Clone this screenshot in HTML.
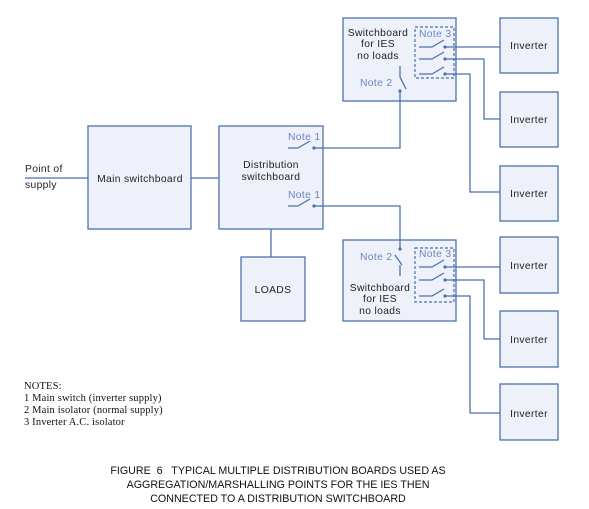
<!DOCTYPE html>
<html><head><meta charset="utf-8"><style>
html,body{margin:0;padding:0;background:#fff;}
svg{display:block;}
.b{fill:#eef1f9;stroke:#4a72b0;stroke-width:1.3;}
.l{fill:none;stroke:#4a72b0;stroke-width:1.3;}
.d{fill:none;stroke:#4a72b0;stroke-width:1.2;stroke-dasharray:3,2;}
.t{font-family:"Liberation Sans",sans-serif;font-size:10.3px;fill:#222;letter-spacing:0.35px;}
.n{font-family:"Liberation Sans",sans-serif;font-size:10.3px;fill:#6a86c0;letter-spacing:0.35px;}
.s{font-family:"Liberation Serif",serif;font-size:10.5px;fill:#111;letter-spacing:0.15px;}
.c{font-family:"Liberation Sans",sans-serif;font-size:10.7px;fill:#111;white-space:pre;}
circle{fill:#4a72b0;}
</style></head><body>
<svg width="589" height="509" viewBox="0 0 589 509">
<rect class="b" x="88" y="126" width="103" height="103"/>
<rect class="b" x="219" y="126" width="104" height="103"/>
<rect class="b" x="241" y="257" width="64" height="64"/>
<rect class="b" x="343" y="18" width="113" height="83"/>
<rect class="b" x="343" y="240" width="113" height="81"/>
<rect class="b" x="500" y="18" width="58" height="55"/>
<rect class="b" x="500" y="92" width="58" height="55"/>
<rect class="b" x="500" y="166" width="58" height="55"/>
<rect class="b" x="500" y="237" width="58" height="56"/>
<rect class="b" x="500" y="311" width="58" height="56"/>
<rect class="b" x="500" y="384" width="58" height="56"/>
<rect class="d" x="415" y="27" width="39" height="51"/>
<rect class="d" x="415" y="248" width="39" height="54"/>
<path class="l" d="M25 178H88M191 178H219M271 229V257"/>
<path class="l" d="M288 148H298L310 141M314 148H400V91M288 206H298L310 199M314 206H400V248"/>
<circle cx="314" cy="148" r="1.6"/><circle cx="314" cy="206" r="1.6"/>
<path class="l" d="M400 66V77L406 89"/><circle cx="400" cy="91" r="1.6"/>
<path class="l" d="M395 255L402 265M400 265V276"/><circle cx="400" cy="249" r="1.6"/>
<path class="l" d="M419 47H432L444 40M445 47H500M419 59H432L444 52M445 59H484V119H500M419 74H432L444 67M445 74H470V192H500"/>
<circle cx="445" cy="47" r="1.6"/><circle cx="445" cy="59" r="1.6"/><circle cx="445" cy="74" r="1.6"/>
<path class="l" d="M419 267H432L444 260M445 267H500M419 280H432L444 273M445 280H484V339H500M419 296H432L444 289M445 296H470V413H500"/>
<circle cx="445" cy="267" r="1.6"/><circle cx="445" cy="280" r="1.6"/><circle cx="445" cy="296" r="1.6"/>
<text class="t" x="25" y="172">Point of</text>
<text class="t" x="25" y="188">supply</text>
<text class="t" x="140" y="182" text-anchor="middle">Main switchboard</text>
<text class="t" x="271" y="168" text-anchor="middle">Distribution</text>
<text class="t" x="271" y="180" text-anchor="middle">switchboard</text>
<text class="n" x="288" y="140">Note 1</text>
<text class="n" x="288" y="198">Note 1</text>
<text class="t" x="273" y="293" text-anchor="middle">LOADS</text>
<text class="t" x="378" y="36" text-anchor="middle">Switchboard</text>
<text class="t" x="378" y="47" text-anchor="middle">for IES</text>
<text class="t" x="378" y="59" text-anchor="middle">no loads</text>
<text class="n" x="360" y="86">Note 2</text>
<text class="n" x="419" y="37">Note 3</text>
<text class="n" x="360" y="260">Note 2</text>
<text class="n" x="419" y="257">Note 3</text>
<text class="t" x="380" y="291" text-anchor="middle">Switchboard</text>
<text class="t" x="380" y="302" text-anchor="middle">for IES</text>
<text class="t" x="380" y="314" text-anchor="middle">no loads</text>
<text class="t" x="529" y="49" text-anchor="middle">Inverter</text>
<text class="t" x="529" y="123" text-anchor="middle">Inverter</text>
<text class="t" x="529" y="197" text-anchor="middle">Inverter</text>
<text class="t" x="529" y="269" text-anchor="middle">Inverter</text>
<text class="t" x="529" y="343" text-anchor="middle">Inverter</text>
<text class="t" x="529" y="417" text-anchor="middle">Inverter</text>
<text class="s" x="24" y="389">NOTES:</text>
<text class="s" x="24" y="401">1 Main switch (inverter supply)</text>
<text class="s" x="24" y="413">2 Main isolator (normal supply)</text>
<text class="s" x="24" y="425">3 Inverter A.C. isolator</text>
<text class="c" x="278" y="474" text-anchor="middle" xml:space="preserve">FIGURE  6   TYPICAL MULTIPLE DISTRIBUTION BOARDS USED AS</text>
<text class="c" x="278" y="488" text-anchor="middle">AGGREGATION/MARSHALLING POINTS FOR THE IES THEN</text>
<text class="c" x="278" y="502" text-anchor="middle">CONNECTED TO A DISTRIBUTION SWITCHBOARD</text>
</svg>
</body></html>
